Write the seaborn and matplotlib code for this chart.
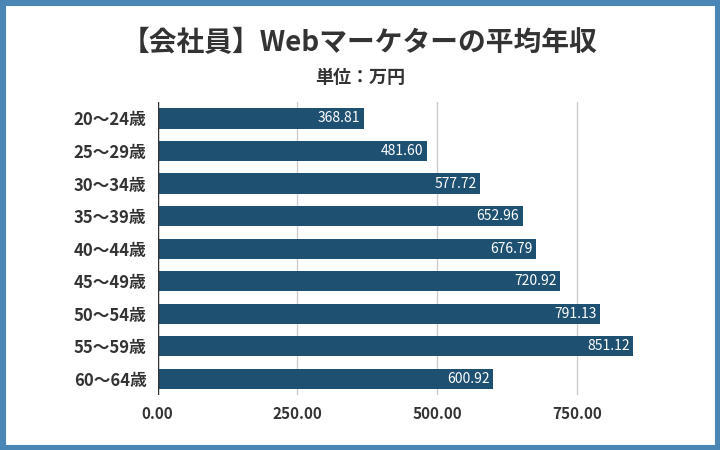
import matplotlib
matplotlib.use("Agg")
import matplotlib.pyplot as plt
import seaborn as sns
import pandas as pd
from matplotlib.patches import Rectangle

categories = ["20〜24歳","25〜29歳","30〜34歳","35〜39歳","40〜44歳","45〜49歳","50〜54歳","55〜59歳","60〜64歳"]
values = [368.81, 481.60, 577.72, 652.96, 676.79, 720.92, 791.13, 851.12, 600.92]
xticks = [0, 250, 500, 750]

plt.rcParams["font.family"] = "Noto Sans CJK JP"
df = pd.DataFrame({"age": categories, "val": values})

fig = plt.figure(figsize=(7.2, 4.5), dpi=100)
ax = fig.add_axes([0.219, 0.122, 0.745, 0.651])
sns.barplot(data=df, y="age", x="val", color="#1e5072", width=0.62, saturation=1, ax=ax)
for i, v in enumerate(values):
    ax.text(v - 6, i, f"{v:.2f}", color="white", ha="right", va="center", fontsize=10)
ax.set_xlim(0, 960)
ax.set_xticks(xticks)
ax.set_xticklabels([f"{t:.2f}" for t in xticks], fontsize=11, fontweight="bold", color="#333333")
ax.set_yticklabels(categories, fontsize=12, fontweight="bold", color="#333333")
ax.set_xlabel(""); ax.set_ylabel("")
ax.grid(axis="x", color="#cccccc", linewidth=1)
ax.set_axisbelow(True)
for s in ax.spines.values():
    s.set_visible(False)
ax.axvline(0, color="#333333", linewidth=1)
ax.tick_params(length=0, pad=8)
fig.text(0.5, 0.905, "【会社員】Webマーケターの平均年収", ha="center", va="center", fontsize=20, fontweight="bold", color="#333333")
fig.text(0.5, 0.828, "単位：万円", ha="center", va="center", fontsize=13, fontweight="bold", color="#333333")
fig.patches.append(Rectangle((0, 0), 1, 1, transform=fig.transFigure, fill=False, edgecolor="#4a86b5", linewidth=8))
fig.savefig("out.png", dpi=100)
